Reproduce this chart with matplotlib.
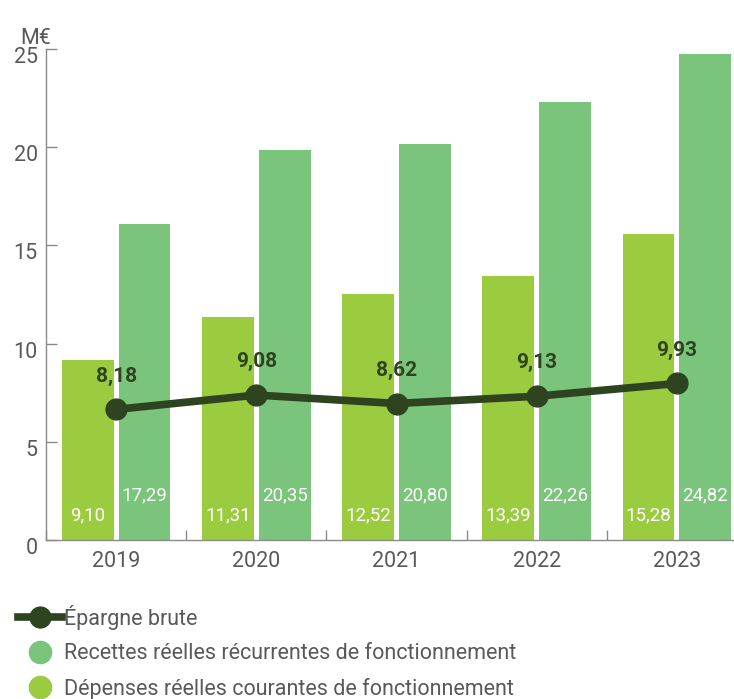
import matplotlib.pyplot as plt
import matplotlib.transforms as mtransforms
from matplotlib.lines import Line2D
import numpy as np

plt.rcParams['font.family'] = ['Roboto', 'DejaVu Sans']

years = ['2019', '2020', '2021', '2022', '2023']
# bar heights as drawn in the picture
depenses = [9.16, 11.34, 12.51, 13.43, 15.56]
recettes = [16.07, 19.84, 20.14, 22.28, 24.77]
epargne = [6.65, 7.38, 6.95, 7.32, 7.97]
# printed labels
depenses_lbl = ['9,10', '11,31', '12,52', '13,39', '15,28']
recettes_lbl = ['17,29', '20,35', '20,80', '22,26', '24,82']
epargne_lbl = ['8,18', '9,08', '8,62', '9,13', '9,93']

c_dep = '#9BCB3F'
c_rec = '#7AC47B'
c_line = '#2E4420'
c_text = '#595959'
c_axis = '#8a8a8a'

fig = plt.figure(figsize=(7.34, 6.99), dpi=100)
ax = fig.add_axes([46 / 734, 159 / 699, 701 / 734, 491 / 699])

x = np.arange(len(years))
w = 0.37
off = 0.203
ax.bar(x - off, depenses, w, color=c_dep, zorder=2)
ax.bar(x + off, recettes, w, color=c_rec, zorder=2)
ax.plot(x, epargne, color=c_line, lw=5.5, marker='o', ms=15, zorder=4,
        solid_capstyle='butt')

for i in range(len(years)):
    ax.annotate(depenses_lbl[i], (x[i] - off, 0), xytext=(0, 18), textcoords='offset points',
                ha='center', va='center', color='white', fontsize=13.5)
    ax.annotate(recettes_lbl[i], (x[i] + off, 0), xytext=(0, 32.5), textcoords='offset points',
                ha='center', va='center', color='white', fontsize=13.5)
    ax.annotate(epargne_lbl[i], (x[i], epargne[i]), xytext=(0, 24), textcoords='offset points',
                ha='center', va='center', color=c_line, fontsize=15, fontweight='bold', zorder=5)

ax.set_xlim(-0.5, 4.5)
ax.set_ylim(0, 25)
ax.set_yticks([0, 5, 10, 15, 20, 25])
ax.set_xticks(x)
ax.set_xticklabels(years)
ax.set_xticks(np.arange(-0.5, 5, 1), minor=True)
ax.tick_params(axis='y', direction='in', length=8, width=1, color=c_axis,
               labelsize=15.5, labelcolor=c_text, pad=6)
ax.tick_params(axis='x', which='major', length=0, labelsize=15.5, labelcolor=c_text, pad=8)
ax.tick_params(axis='x', which='minor', direction='in', length=7, width=1, color=c_axis)
for s in ['top', 'right']:
    ax.spines[s].set_visible(False)
for s in ['left', 'bottom']:
    ax.spines[s].set_color(c_axis)
    ax.spines[s].set_linewidth(1)

# y labels sit a little below their ticks in the reference
shift = mtransforms.ScaledTranslation(0, -0.06, fig.dpi_scale_trans)
for lab in ax.get_yticklabels():
    lab.set_transform(lab.get_transform() + shift)

fig.text(20 / 734, 1 - 38 / 699, 'M€', ha='left', va='center', fontsize=15.5, color=c_text)

handles = [
    Line2D([], [], color=c_line, lw=5.5, marker='o', ms=15),
    Line2D([], [], color=c_rec, lw=0, marker='o', ms=16),
    Line2D([], [], color=c_dep, lw=0, marker='o', ms=16),
]
labels = ['Épargne brute', 'Recettes réelles récurrentes de fonctionnement',
          'Dépenses réelles courantes de fonctionnement']
fig.legend(handles, labels, loc='upper left', bbox_to_anchor=(18 / 734, 1 - 605 / 699),
           frameon=False, fontsize=15.5, labelcolor=c_text, handlelength=2.05,
           handletextpad=0.1, labelspacing=0.62, borderpad=0, borderaxespad=0)

fig.savefig('out.png', dpi=100)
